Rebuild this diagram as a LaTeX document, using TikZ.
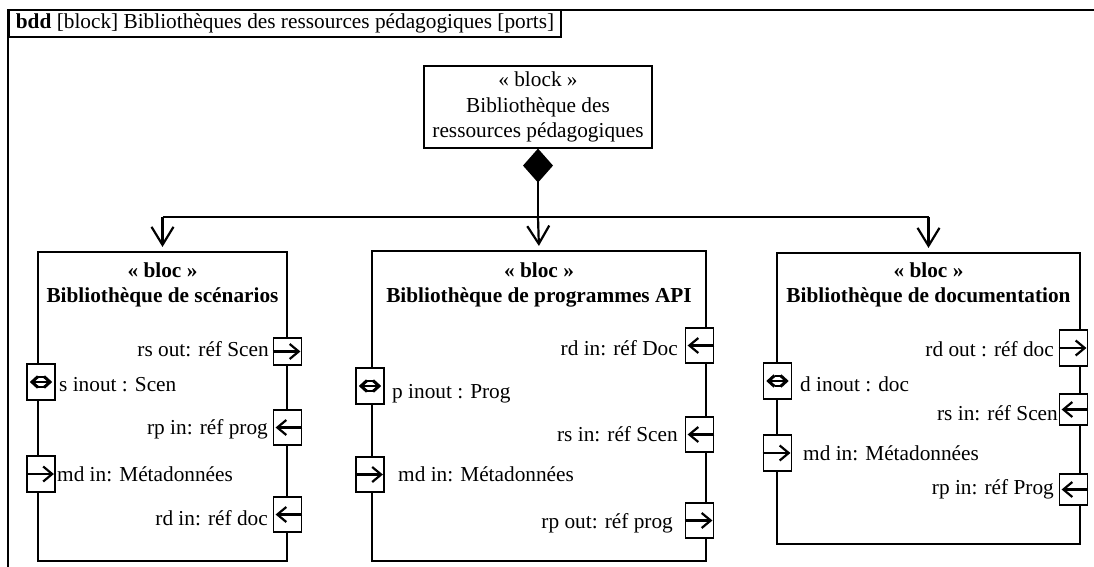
\documentclass[tikz,border=0pt]{standalone}
\usepackage{fontspec}
\setmainfont{Liberation Serif}
\usetikzlibrary{arrows.meta}
\begin{document}
\begin{tikzpicture}[x=1pt,y=-1pt,
  font=\fontsize{21.3}{25}\selectfont,
  frame/.style={line width=2pt},
  blk/.style={draw, line width=2.1pt, fill=white, inner sep=0pt},
  ttl/.style={font=\fontsize{21.3}{25}\selectfont\bfseries, align=center, inner sep=0pt},
  port/.style={draw, line width=1.8pt, fill=white, minimum width=28pt, minimum height=35pt, inner sep=0pt},
  lbl/.style={inner sep=0pt},
  parr/.style={line width=2.2pt, -{Straight Barb[length=9pt,width=15pt]}},
  conn/.style={line width=2.2pt},
  carr/.style={line width=2.2pt, -{Straight Barb[length=18pt,width=22pt]}, shorten >=4pt},
  inout/.pic={\draw[line width=1.4pt] (-3,-5) -- (3,-5) (-3,5) -- (3,5) (-8,0) -- (8,0);
              \draw[line width=3pt, line join=miter] (-3,-5.5) -- (-9,0) -- (-3,5.5) (3,-5.5) -- (9,0) -- (3,5.5);}
]
\useasboundingbox (0,0) rectangle (1094,567);
% frame
\draw[frame] (1110,10) -- (8,10) -- (8,580);
\node[draw, line width=1.8pt, anchor=west, minimum height=27pt, inner xsep=7pt, inner ysep=0pt] (hdr) at (8,23.5)
  {\textbf{bdd} [block] Bibliothèques des ressources pédagogiques [ports]};

% top block
\node[draw, line width=1.2pt, minimum width=228pt, minimum height=82pt, align=center, inner sep=0pt,
  font=\fontsize{21.3}{25.5}\selectfont] (top) at (538,107)
  {« block »\\Bibliothèque des\\ressources pédagogiques};

% blocks
\node[blk, minimum width=249pt, minimum height=309pt] (bs) at (162.5,406.5) {};
\node[blk, minimum width=334pt, minimum height=310pt] (bp) at (539,406) {};
\node[blk, minimum width=303pt, minimum height=291pt] (bd) at (928.5,398.5) {};
\node[ttl] (ts) at (162.5,285) {« bloc »\\Bibliothèque de scénarios};
\node[ttl] (tp) at (539,285) {« bloc »\\Bibliothèque de programmes API};
\node[ttl] (td) at (928.5,285) {« bloc »\\Bibliothèque de documentation};

% composition
\coordinate (j) at (538,217);
\coordinate (hl) at (bs.north |- j);
\coordinate (hr) at (bd.north |- j);
\draw[conn, {Diamond[length=34pt,width=30pt]}-] (top.south) -- (j);
\draw[conn] (hl) -- (hr);
\draw[carr] (hl) -- (bs.north);
\draw[carr] (j) -- (bp.north);
\draw[carr] (hr) -- (bd.north);

% ports: scenarios
\node[port, minimum height=27pt] (s1) at (287.5,351.5) {};
\node[port, minimum height=36pt] (s2) at (41,382) {};
\node[port] (s3) at (287.5,427.5) {};
\node[port, minimum height=36pt] (s4) at (41,474) {};
\node[port] (s5) at (287.5,514.5) {};
\draw[parr] (s1.west) -- ([xshift=-2pt]s1.east);
\pic at (s2) {inout};
\draw[parr] (s3.east) -- ([xshift=3pt]s3.west);
\draw[parr] (s4.west) -- ([xshift=-2pt]s4.east);
\draw[parr] (s5.east) -- ([xshift=3pt]s5.west);
\node[lbl, anchor=east] (ls1) at (269,349) {rs out: réf Scen};
\node[lbl, anchor=west] (ls2) at (59,385) {s inout : Scen};
\node[lbl, anchor=east] (ls3) at (268,429) {rp in: réf prog};
\node[lbl, anchor=west] (ls4) at (57,474) {md in: Métadonnées};
\node[lbl, anchor=east] (ls5) at (268,518) {rd in: réf doc};

% ports: programmes
\node[port] (p1) at (699.5,345.5) {};
\node[port, minimum height=36pt] (p2) at (370,386) {};
\node[port] (p3) at (699.5,434.5) {};
\node[port] (p4) at (370,474.5) {};
\node[port] (p5) at (699.5,520.5) {};
\draw[parr] (p1.east) -- ([xshift=3pt]p1.west);
\pic at (p2) {inout};
\draw[parr] (p3.east) -- ([xshift=3pt]p3.west);
\draw[parr] (p4.west) -- ([xshift=-2pt]p4.east);
\draw[parr] (p5.west) -- ([xshift=-2pt]p5.east);
\node[lbl, anchor=east] (lp1) at (678,348) {rd in: réf Doc};
\node[lbl, anchor=west] (lp2) at (392,394) {p inout : Prog};
\node[lbl, anchor=east] (lp3) at (678,434) {rs in: réf Scen};
\node[lbl, anchor=west] (lp4) at (398,474) {md in: Métadonnées};
\node[lbl, anchor=east] (lp5) at (673,523) {rp out: réf prog};

% ports: documentation
\node[port, minimum height=36pt] (d1) at (1073.5,348) {};
\node[port, minimum height=36pt] (d2) at (777.5,381) {};
\node[port, minimum height=31pt] (d3) at (1073.5,409.5) {};
\node[port, minimum height=36pt] (d4) at (777.5,453) {};
\node[port, minimum height=31pt] (d5) at (1073.5,489.5) {};
\draw[parr] (d1.west) -- ([xshift=-2pt]d1.east);
\pic at (d2) {inout};
\draw[parr] (d3.east) -- ([xshift=3pt]d3.west);
\draw[parr] (d4.west) -- ([xshift=-2pt]d4.east);
\draw[parr] (d5.east) -- ([xshift=3pt]d5.west);
\node[lbl, anchor=east] (ld1) at (1054,349) {rd out : réf doc};
\node[lbl, anchor=west] (ld2) at (800,384) {d inout : doc};
\node[lbl, anchor=east] (ld3) at (1058,413) {rs in: réf Scen};
\node[lbl, anchor=west] (ld4) at (803,453) {md in: Métadonnées};
\node[lbl, anchor=east] (ld5) at (1054,489) {rp in: réf Prog};
\end{tikzpicture}
\end{document}
